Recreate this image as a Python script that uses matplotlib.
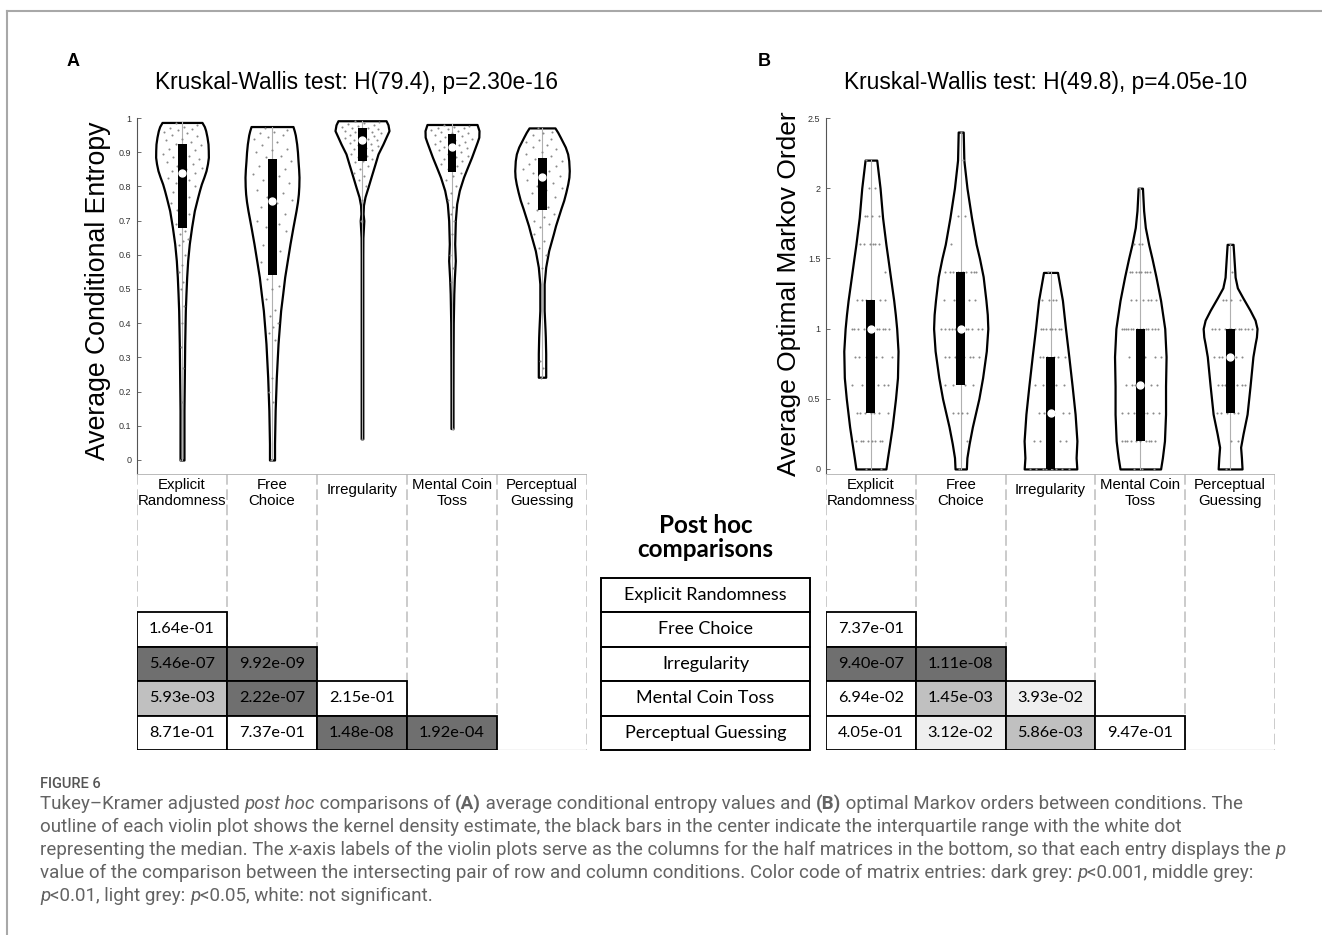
import numpy as np
import matplotlib.pyplot as plt
from matplotlib.patches import Rectangle
from matplotlib.lines import Line2D
from matplotlib.font_manager import FontProperties

# ---------------- data ----------------
conditions = ["Explicit Randomness", "Free Choice", "Irregularity",
              "Mental Coin Toss", "Perceptual Guessing"]
col_labels = ["Explicit\nRandomness", "Free\nChoice", "Irregularity",
              "Mental Coin\nToss", "Perceptual\nGuessing"]

title_A = "Kruskal-Wallis test: H(79.4), p=2.30e-16"
title_B = "Kruskal-Wallis test: H(49.8), p=4.05e-10"

# violin outlines: value levels and half widths (column units)
entropy_prof_y = [
    [0.987, 0.975, 0.963, 0.944, 0.924, 0.905, 0.885, 0.866, 0.846, 0.827, 0.807, 0.788, 0.768,
     0.729, 0.681, 0.632, 0.583, 0.535, 0.486, 0.437, 0.340, 0.242, 0.145, 0.0],
    [0.975, 0.962, 0.950, 0.924, 0.900, 0.875, 0.850, 0.827, 0.800, 0.778, 0.755, 0.729, 0.705,
     0.681, 0.632, 0.583, 0.535, 0.486, 0.437, 0.388, 0.340, 0.242, 0.145, 0.048, 0.0],
    [0.992, 0.980, 0.963, 0.944, 0.924, 0.895, 0.865, 0.846, 0.827, 0.798, 0.769, 0.745, 0.72,
     0.70, 0.68, 0.65, 0.60, 0.40, 0.20, 0.062],
    [0.981, 0.963, 0.944, 0.930, 0.915, 0.885, 0.856, 0.827, 0.808, 0.788, 0.749, 0.700,
     0.632, 0.583, 0.530, 0.486, 0.40, 0.30, 0.20, 0.092],
    [0.971, 0.958, 0.944, 0.915, 0.895, 0.875, 0.846, 0.827, 0.807, 0.783, 0.759, 0.735, 0.710,
     0.685, 0.661, 0.612, 0.564, 0.515, 0.437, 0.380, 0.359, 0.311, 0.242],
]
entropy_prof_w = [
    [0.222, 0.248, 0.263, 0.278, 0.289, 0.292, 0.293, 0.283, 0.267, 0.243, 0.215, 0.194, 0.174,
     0.137, 0.107, 0.081, 0.063, 0.052, 0.044, 0.037, 0.030, 0.026, 0.022, 0.022],
    [0.233, 0.248, 0.259, 0.274, 0.283, 0.289, 0.296, 0.300, 0.298, 0.293, 0.283, 0.267, 0.250,
     0.233, 0.200, 0.170, 0.141, 0.119, 0.096, 0.081, 0.067, 0.048, 0.035, 0.028, 0.028],
    [0.267, 0.289, 0.300, 0.267, 0.233, 0.178, 0.144, 0.122, 0.100, 0.067, 0.033, 0.016, 0.012,
     0.020, 0.016, 0.010, 0.009, 0.009, 0.009, 0.009],
    [0.278, 0.300, 0.298, 0.280, 0.259, 0.217, 0.172, 0.128, 0.105, 0.081, 0.052, 0.037,
     0.030, 0.037, 0.026, 0.020, 0.014, 0.012, 0.011, 0.011],
    [0.144, 0.175, 0.203, 0.259, 0.285, 0.297, 0.303, 0.299, 0.286, 0.265, 0.241, 0.210, 0.180,
     0.150, 0.126, 0.074, 0.041, 0.024, 0.024, 0.034, 0.037, 0.041, 0.041],
]
entropy_q1 = [0.678, 0.542, 0.873, 0.841, 0.732]
entropy_q3 = [0.924, 0.880, 0.971, 0.953, 0.882]
entropy_med = [0.840, 0.756, 0.937, 0.916, 0.827]

# individual participants (grey dots)
entropy_pts = [
    [0.985, 0.98, 0.975, 0.97, 0.968, 0.965, 0.96, 0.957, 0.95, 0.947, 0.94, 0.935, 0.93, 0.925,
     0.922, 0.915, 0.91, 0.905, 0.9, 0.895, 0.89, 0.885, 0.88, 0.875, 0.87, 0.866, 0.86, 0.855,
     0.85, 0.845, 0.84, 0.83, 0.825, 0.82, 0.81, 0.8, 0.79, 0.785, 0.77, 0.76, 0.75, 0.74, 0.73,
     0.72, 0.71, 0.69, 0.67, 0.66, 0.645, 0.64, 0.63, 0.6, 0.57, 0.55, 0.52, 0.5, 0.45, 0.4,
     0.33, 0.27, 0.17, 0.0],
    [0.97, 0.965, 0.96, 0.955, 0.95, 0.945, 0.94, 0.93, 0.92, 0.91, 0.905, 0.9, 0.89, 0.885,
     0.875, 0.87, 0.86, 0.85, 0.845, 0.835, 0.83, 0.82, 0.81, 0.8, 0.79, 0.78, 0.77, 0.76, 0.75,
     0.74, 0.72, 0.71, 0.7, 0.69, 0.68, 0.67, 0.65, 0.63, 0.61, 0.6, 0.58, 0.56, 0.53, 0.51,
     0.5, 0.47, 0.44, 0.42, 0.4, 0.39, 0.37, 0.35, 0.24, 0.2, 0.17, 0.0],
    [0.99, 0.988, 0.985, 0.983, 0.98, 0.978, 0.975, 0.972, 0.97, 0.968, 0.965, 0.963, 0.96,
     0.958, 0.955, 0.952, 0.95, 0.948, 0.945, 0.942, 0.94, 0.937, 0.935, 0.93, 0.928, 0.925,
     0.92, 0.917, 0.913, 0.91, 0.905, 0.9, 0.895, 0.89, 0.885, 0.88, 0.875, 0.87, 0.86, 0.85,
     0.84, 0.83, 0.82, 0.8, 0.76, 0.7, 0.06],
    [0.98, 0.978, 0.975, 0.972, 0.97, 0.968, 0.965, 0.962, 0.96, 0.957, 0.955, 0.95, 0.947,
     0.944, 0.94, 0.937, 0.933, 0.93, 0.927, 0.923, 0.92, 0.916, 0.912, 0.908, 0.905, 0.9,
     0.895, 0.89, 0.885, 0.88, 0.875, 0.87, 0.865, 0.86, 0.85, 0.84, 0.83, 0.82, 0.8, 0.78,
     0.76, 0.74, 0.72, 0.7, 0.66, 0.6, 0.56, 0.52, 0.09],
    [0.97, 0.96, 0.955, 0.95, 0.94, 0.935, 0.93, 0.92, 0.915, 0.91, 0.9, 0.895, 0.89, 0.88,
     0.875, 0.87, 0.865, 0.86, 0.855, 0.85, 0.845, 0.84, 0.83, 0.825, 0.82, 0.81, 0.8, 0.795,
     0.79, 0.78, 0.77, 0.76, 0.75, 0.74, 0.73, 0.72, 0.71, 0.7, 0.69, 0.68, 0.66, 0.64, 0.62,
     0.6, 0.56, 0.29, 0.27, 0.24],
]

markov_prof_y = [
    [2.2, 2.0, 1.79, 1.6, 1.5, 1.37, 1.2, 1.1, 1.0, 0.84, 0.65, 0.5, 0.3, 0.18, 0.08, 0.0],
    [2.4, 2.2, 2.0, 1.79, 1.6, 1.5, 1.37, 1.2, 1.1, 1.0, 0.84, 0.65, 0.5, 0.3, 0.18, 0.08, 0.0],
    [1.4, 1.2, 1.0, 0.8, 0.59, 0.39, 0.20, 0.08, 0.0],
    [2.0, 1.84, 1.72, 1.6, 1.5, 1.37, 1.2, 1.0, 0.8, 0.59, 0.39, 0.2, 0.08, 0.0],
    [1.6, 1.41, 1.366, 1.29, 1.22, 1.13, 1.06, 1.0, 0.94, 0.89, 0.8, 0.59, 0.39, 0.25,
     0.155, 0.08, 0.0],
]
markov_prof_w = [
    [0.065, 0.102, 0.130, 0.167, 0.189, 0.217, 0.254, 0.272, 0.287, 0.302, 0.296, 0.274,
     0.237, 0.209, 0.185, 0.167],
    [0.028, 0.035, 0.070, 0.120, 0.172, 0.209, 0.250, 0.281, 0.296, 0.302, 0.285, 0.244,
     0.202, 0.130, 0.094, 0.069, 0.063],
    [0.078, 0.133, 0.167, 0.204, 0.241, 0.274, 0.294, 0.285, 0.293],
    [0.024, 0.037, 0.056, 0.093, 0.130, 0.174, 0.226, 0.272, 0.287, 0.281, 0.281, 0.269,
     0.246, 0.226],
    [0.033, 0.052, 0.056, 0.081, 0.141, 0.222, 0.278, 0.300, 0.293, 0.278, 0.254, 0.222,
     0.189, 0.144, 0.117, 0.126, 0.133],
]
markov_q1 = [0.4, 0.6, 0.0, 0.2, 0.4]
markov_q3 = [1.2, 1.4, 0.8, 1.0, 1.0]
markov_med = [1.0, 1.0, 0.4, 0.6, 0.8]

markov_levels = [0.0, 0.2, 0.4, 0.6, 0.8, 1.0, 1.2, 1.4, 1.6, 1.8, 2.0, 2.2, 2.4]
markov_counts = [
    [2, 8, 7, 7, 6, 12, 6, 1, 6, 4, 2, 1, 0],
    [1, 1, 4, 4, 8, 12, 5, 10, 1, 2, 0, 1, 1],
    [8, 5, 6, 5, 6, 8, 4, 1, 0, 0, 0, 0, 0],
    [3, 10, 8, 6, 5, 14, 6, 8, 3, 0, 1, 0, 0],
    [1, 2, 5, 7, 7, 12, 4, 1, 1, 0, 0, 0, 0],
]

# Tukey-Kramer p values (lower half matrices, row = condition 2..5)
p_A = [["1.64e-01"],
       ["5.46e-07", "9.92e-09"],
       ["5.93e-03", "2.22e-07", "2.15e-01"],
       ["8.71e-01", "7.37e-01", "1.48e-08", "1.92e-04"]]
p_B = [["7.37e-01"],
       ["9.40e-07", "1.11e-08"],
       ["6.94e-02", "1.45e-03", "3.93e-02"],
       ["4.05e-01", "3.12e-02", "5.86e-03", "9.47e-01"]]

# ---------------- figure ----------------
W, H = 1322, 935
fig = plt.figure(figsize=(W / 100, H / 100), dpi=100)
fig.patch.set_facecolor("white")

SANS = ["Liberation Sans", "DejaVu Sans"]
TAB = ["Lato", "DejaVu Sans"]
CAP = ["Roboto", "DejaVu Sans"]


def frect(left, top, right, bottom):
    return [left / W, 1 - bottom / H, (right - left) / W, (bottom - top) / H]


def p_color(s):
    p = float(s)
    if p < 0.001:
        return "#6f6f6f"
    if p < 0.01:
        return "#c0c0c0"
    if p < 0.05:
        return "#efefef"
    return "white"


def jitter(n):
    # deterministic spread in [-1, 1]
    return ((np.arange(n) * 0.618034 + 0.31) % 1.0) * 2 - 1


def violins(ax, prof_y, prof_w, q1, q3, med, pts):
    for i in range(5):
        c = i + 1
        y = np.array(prof_y[i])
        w = np.array(prof_w[i])
        ax.fill_betweenx(y, c - w, c + w, facecolor="white", edgecolor="black",
                         linewidth=1.6, zorder=2)
        ax.plot([c, c], [y.min(), y.max()], color="#b0b0b0", lw=0.8, zorder=3)
        v = np.array(pts[i])
        order = np.argsort(y)
        hw = np.interp(v, y[order], w[order])
        ax.scatter(c + jitter(len(v)) * hw * 0.8, v, s=2.2, color="#8a8a8a",
                   linewidths=0, zorder=4)
        ax.add_patch(Rectangle((c - 0.05, q1[i]), 0.1, q3[i] - q1[i],
                               facecolor="black", edgecolor="none", zorder=5))
        ax.plot(c, med[i], "o", ms=5, mfc="white", mec="white", zorder=6)
    ax.set_xlim(0.5, 5.5)
    ax.set_xticks([])
    for s in ["top", "right", "bottom"]:
        ax.spines[s].set_visible(False)
    ax.spines["left"].set_color("#555555")
    ax.spines["left"].set_linewidth(0.8)
    ax.tick_params(axis="y", direction="in", length=3, width=0.6, color="#555555",
                   labelsize=6.5, labelcolor="#333333", pad=4)


# panel A
axA = fig.add_axes(frect(137, 118, 587, 474))
violins(axA, entropy_prof_y, entropy_prof_w, entropy_q1, entropy_q3, entropy_med, entropy_pts)
axA.set_ylim(-0.041, 1.0)
axA.set_yticks(np.arange(0, 1.01, 0.1))
axA.set_yticklabels(["0", "0.1", "0.2", "0.3", "0.4", "0.5", "0.6", "0.7", "0.8", "0.9", "1"],
                    family=SANS)
axA.set_ylabel("Average Conditional Entropy", fontsize=19.2, family=SANS)
axA.yaxis.set_label_coords(-0.058, 0.515)

# panel B
axB = fig.add_axes(frect(826, 118, 1275, 474))
markov_pts = [np.repeat(markov_levels, cnt) for cnt in markov_counts]
violins(axB, markov_prof_y, markov_prof_w, markov_q1, markov_q3, markov_med, markov_pts)
axB.set_ylim(-0.036, 2.5)
axB.set_yticks([0, 0.5, 1, 1.5, 2, 2.5])
axB.set_yticklabels(["0", "0.5", "1", "1.5", "2", "2.5"], family=SANS)
axB.set_ylabel("Average Optimal Markov Order", fontsize=19, family=SANS)
axB.yaxis.set_label_coords(-0.055, 0.506)

fig.text(73 / W, 1 - 62 / H, "A", fontsize=13, weight="bold", family=SANS,
         ha="center", va="center")
fig.text(764 / W, 1 - 62 / H, "B", fontsize=13, weight="bold", family=SANS,
         ha="center", va="center")
fig.text(356 / W, 1 - 82 / H, title_A, fontsize=16.4, family=SANS, ha="center", va="center")
fig.text(1046 / W, 1 - 82 / H, title_B, fontsize=16.4, family=SANS, ha="center", va="center")


# label grid + half matrices
def half_matrix(rect, pvals):
    ax = fig.add_axes(rect)
    ax.set_xlim(0.5, 5.5)
    ax.set_ylim(8, 0)
    ax.axis("off")
    for xb in np.arange(0.5, 5.6, 1.0):
        ax.plot([xb, xb], [0, 8], color="#bdbdbd", lw=1.1, ls=(0, (7, 3)), zorder=1)
    ax.plot([0.5, 5.5], [0, 0], color="#b5b5b5", lw=1.3, zorder=1)
    ax.plot([0.5, 5.5], [8, 8], color="#d0d0d0", lw=1.0, zorder=1)
    for j, lab in enumerate(col_labels):
        yy = 0.55 if "\n" in lab else 0.46
        ax.text(j + 1, yy, lab, ha="center", va="center", fontsize=10.8, family=SANS,
                linespacing=1.12, zorder=3)
    for r, row in enumerate(pvals):
        for j, s in enumerate(row):
            ax.add_patch(Rectangle((j + 0.5, 4 + r), 1, 1, facecolor=p_color(s),
                                   edgecolor="black", lw=1.3, zorder=2))
            ax.text(j + 1, 4.5 + r, s, ha="center", va="center", fontsize=11.8,
                    family=TAB, zorder=3)
    return ax


half_matrix(frect(137, 474, 587, 750), p_A)
half_matrix(frect(826, 474, 1275, 750), p_B)

axM = fig.add_axes(frect(601, 474, 810, 750))
axM.set_xlim(0, 1)
axM.set_ylim(8, 0)
axM.axis("off")
axM.text(0.5, 1.84, "Post hoc\ncomparisons", ha="center", va="center", fontsize=17.5,
         weight="bold", family=TAB, linespacing=1.08)
for r, name in enumerate(conditions):
    axM.add_patch(Rectangle((0, 3 + r), 1, 1, facecolor="white", edgecolor="black",
                            lw=1.4, clip_on=False))
    axM.text(0.5, 3.5 + r, name, ha="center", va="center", fontsize=13, family=TAB)

# outer frame lines
fig.add_artist(Line2D([7 / W, 1], [1 - 11 / H, 1 - 11 / H], color="#a8a8a8", lw=1.5))
fig.add_artist(Line2D([7 / W, 7 / W], [0, 1 - 11 / H], color="#a8a8a8", lw=1.5))

# caption with mixed styles
renderer = fig.canvas.get_renderer()
CAP_SIZE = 13.5
CAP_COLOR = "#636363"


def width_px(s, fp):
    w1 = renderer.get_text_width_height_descent("|" + s + "|", fp, ismath=False)[0]
    w0 = renderer.get_text_width_height_descent("||", fp, ismath=False)[0]
    return w1 - w0


def runs_line(x, y, runs):
    for s, style in runs:
        fp = FontProperties(family=CAP, size=CAP_SIZE,
                            style="italic" if style == "i" else "normal",
                            weight="bold" if style == "b" else "normal")
        fig.text(x / W, 1 - y / H, s, fontproperties=fp, color=CAP_COLOR,
                 ha="left", va="baseline")
        x += width_px(s, fp) * 100 / fig.dpi


fig.text(40 / W, 1 - 788 / H, "FIGURE 6", fontsize=10.5, family=CAP, weight="medium",
         color="#555555", va="baseline")
caption = [
    [("Tukey–Kramer adjusted ", ""), ("post hoc", "i"), (" comparisons of ", ""), ("(A)", "b"),
     (" average conditional entropy values and ", ""), ("(B)", "b"),
     (" optimal Markov orders between conditions. The", "")],
    [("outline of each violin plot shows the kernel density estimate, the black bars in the "
      "center indicate the interquartile range with the white dot", "")],
    [("representing the median. The ", ""), ("x", "i"),
     ("-axis labels of the violin plots serve as the columns for the half matrices in the "
      "bottom, so that each entry displays the ", ""), ("p", "i")],
    [("value of the comparison between the intersecting pair of row and column conditions. "
      "Color code of matrix entries: dark grey: ", ""), ("p", "i"), ("<0.001, middle grey:", "")],
    [("p", "i"), ("<0.01, light grey: ", ""), ("p", "i"), ("<0.05, white: not significant.", "")],
]
for k, line in enumerate(caption):
    runs_line(40, 809 + 23 * k, line)

fig.savefig("out.png", dpi=100, facecolor="white")
